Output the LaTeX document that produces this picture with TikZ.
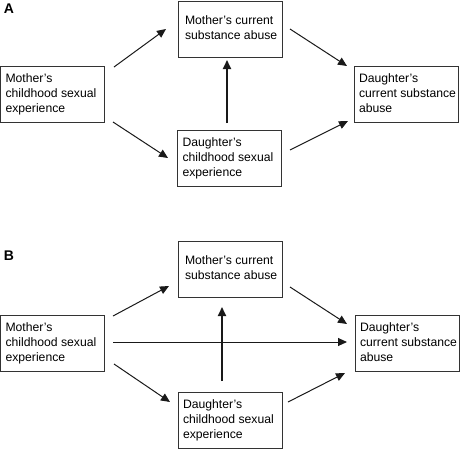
\documentclass[tikz,border=0pt]{standalone}
\usepackage{fontspec}
\setmainfont{Liberation Sans}
\usetikzlibrary{arrows.meta}
\tikzset{
  box/.style={draw=black!80, line width=1pt, rectangle, anchor=north west, inner xsep=5pt, inner ysep=0pt, outer sep=0pt, minimum height=56pt, font=\fontsize{12.2}{15}\selectfont},
  arr/.style={draw=black!90, line width=1pt, -{Triangle[length=9pt,width=8pt]}},
  thickarr/.style={arr, line width=1.8pt},
  panel/.style={font=\fontsize{14}{16}\selectfont\bfseries, inner sep=0pt}
}
\newcommand{\boxtext}[1]{\makebox[94pt][l]{\begin{tabular}{@{}l@{}}#1\end{tabular}}}
\begin{document}
\begin{tikzpicture}[x=1pt,y=-1pt]
\useasboundingbox (0,0) rectangle (474,464);
% Panel A
\node[panel] (la) at (9,9) {A};
\node[box] (amc) at (0.5,66) {\boxtext{Mother's\\childhood sexual\\experience}};
\node[box] (amcur) at (178,1) {\boxtext{\hspace*{2pt}Mother's current\\\hspace*{2pt}substance abuse}};
\node[box] (adc) at (177.5,130) {\boxtext{Daughter's\\childhood sexual\\experience}};
\node[box] (adcur) at (354,66) {\boxtext{Daughter's\\current substance\\abuse}};
\draw[arr] ([shift={(9.5,1)}]amc.north east) -- ([shift={(-12,0)}]amcur.west);
\draw[arr] ([shift={(8.5,0)}]amc.south east) -- ([shift={(-9.5,0)}]adc.west);
\draw[thickarr] ([shift={(-2.5,-7)}]adc.north) -- ([shift={(-3,3)}]amcur.south);
\draw[arr] ([shift={(8,0)}]amcur.east) -- ([shift={(-7,0)}]adcur.north west);
\draw[arr] ([shift={(8.5,-8)}]adc.east) -- ([shift={(-6,-1)}]adcur.south west);
% Panel B
\node[panel] (lb) at (9,256) {B};
\node[box] (bmcur) at (178,241) {\boxtext{\hspace*{2pt}Mother's current\\\hspace*{2pt}substance abuse}};
\node[box] (bmc) at (0.5,315) {\boxtext{Mother's\\childhood sexual\\experience}};
\node[box] (bdc) at (178,392) {\boxtext{Daughter's\\childhood sexual\\experience}};
\node[box] (bdcur) at (355,315) {\boxtext{Daughter's\\current substance\\abuse}};
\draw[arr] ([shift={(8.5,1)}]bmc.north east) -- ([shift={(-9,17)}]bmcur.west);
\draw[arr] ([shift={(9.5,-7)}]bmc.south east) -- ([shift={(-8,-18)}]bdc.west);
\draw[arr] ([shift={(8.5,-1)}]bmc.east) -- ([shift={(-8,-1)}]bdcur.west);
\draw[thickarr] ([shift={(-8,-11)}]bdc.north) -- ([shift={(-8,10)}]bmcur.south);
\draw[arr] ([shift={(8,18)}]bmcur.east) -- ([shift={(-8,9)}]bdcur.north west);
\draw[arr] ([shift={(6,-18)}]bdc.east) -- ([shift={(-10,2)}]bdcur.south west);
\end{tikzpicture}
\end{document}
